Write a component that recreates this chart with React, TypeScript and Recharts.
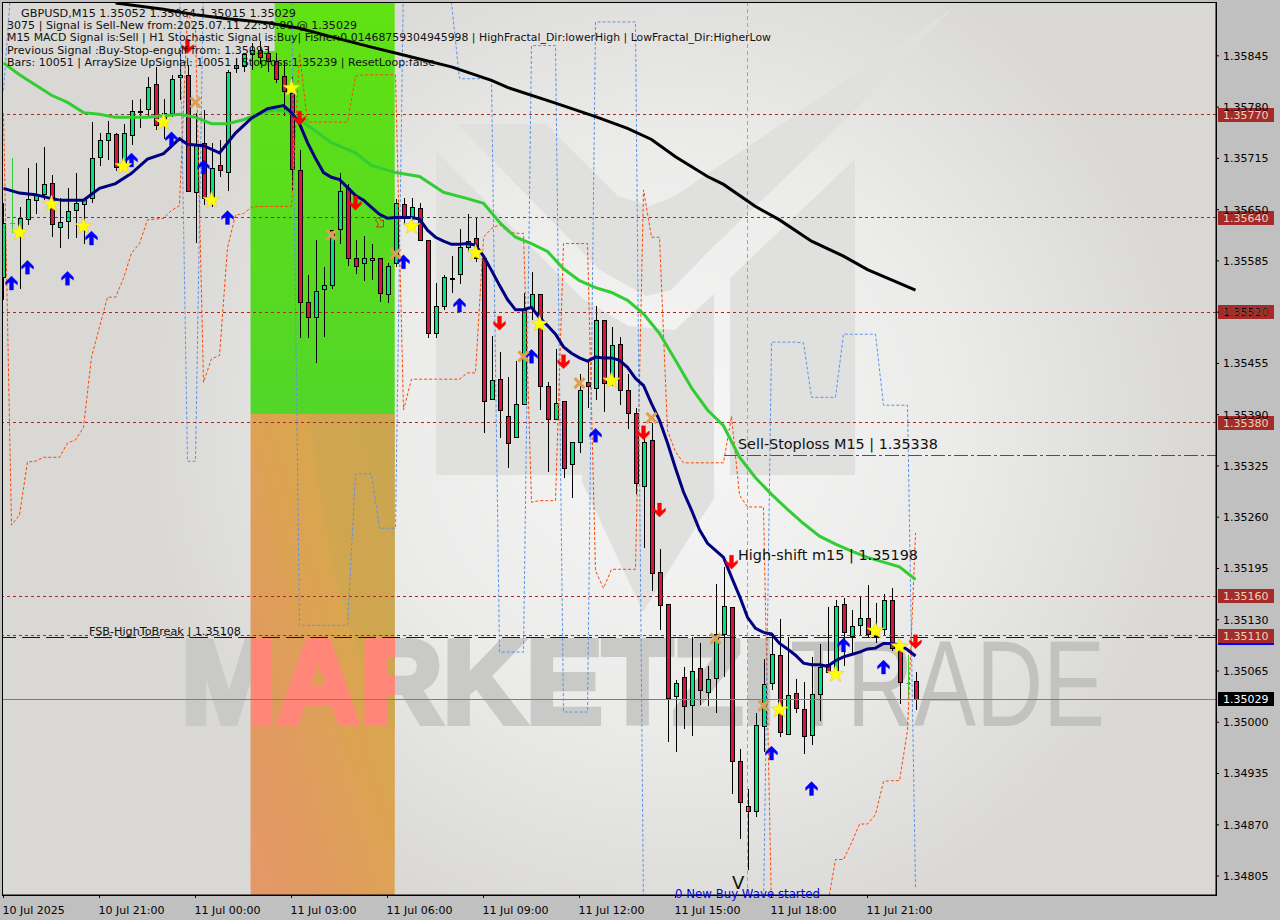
import { ComposedChart, Bar, Line, XAxis, YAxis, ReferenceLine, ReferenceArea } from 'recharts';

// all series values are in points above 1.35000 (1 point = 0.00001)
const highs = [
  658,715,653,703,709,729,694,665,678,697,
  665,761,747,763,747,759,789,790,818,831,
  790,821,852,833,772,776,735,738,827,842,
  849,861,864,858,848,839,818,726,567,611,
  577,624,697,682,611,616,606,589,582,664,
  665,665,658,612,557,567,591,626,645,639,
  591,490,469,438,458,544,571,543,432,473,
  407,356,442,459,528,510,501,488,441,399,
  370,379,220,150,54,70,108,100,71,175,
  197,146,-34,-85,12,80,107,131,108,55,
  51,83,99,146,155,157,142,160,174,151,
  163,170,100,85,64,
];
const opens = [
  565,633,624,638,662,670,684,628,635,650,
  657,665,717,738,746,707,745,774,777,809,
  757,773,818,821,672,735,665,707,698,829,
  832,847,852,849,839,819,798,700,533,514,
  549,554,625,678,589,582,586,589,543,582,
  657,641,652,611,493,528,562,568,603,614,
  589,410,435,388,362,404,525,543,426,384,
  407,327,355,431,424,510,434,480,421,392,
  300,358,190,150,33,58,22,69,39,56,
  112,146,-49,-106,-113,-5,50,85,-15,37,
  17,-16,36,74,66,150,109,123,132,119,
  118,155,94,50,52,
];
const closes = [
  633,633,640,663,668,682,632,634,648,659,
  663,716,738,747,704,747,775,775,806,757,
  773,816,821,674,733,665,703,700,825,833,
  847,852,844,839,816,801,701,533,514,547,
  554,624,673,589,579,589,589,544,578,659,
  639,653,611,493,528,564,563,603,610,589,
  407,434,396,354,403,523,543,427,385,405,
  323,355,421,426,510,430,478,421,392,303,
  356,189,149,31,50,21,65,41,55,112,
  147,-49,-101,-112,-4,49,87,-12,35,18,
  -17,36,70,64,147,114,122,132,112,109,
  155,94,51,50,29,
];
const lows = [
  535,620,550,630,645,662,615,601,613,614,
  607,658,705,713,699,700,732,754,767,751,
  739,767,789,674,608,656,653,692,674,823,
  825,827,835,824,811,769,675,487,487,455,
  488,550,606,579,568,559,561,533,532,577,
  630,630,611,487,487,523,544,556,596,583,
  367,408,360,323,361,403,510,396,317,383,
  310,284,342,398,409,393,427,402,372,289,
  221,166,117,-25,-38,-9,-17,22,21,12,
  57,-91,-148,-187,-120,-38,41,-19,-16,12,
  -40,-29,1,64,66,71,85,111,108,100,
  109,90,23,31,15,
];
const thinGreen = [1, 113];

const navyMa = [
  677,null,671,null,669,null,664,662,662,null,
  662,null,677,null,683,null,696,null,714,null,
  721,null,740,733,null,731,null,722,null,747,
  null,766,null,778,null,782,773,759,735,715,
  697,691,688,678,668,662,653,644,639,640,
  640,640,638,624,615,610,606,606,607,605,
  591,573,554,536,523,523,526,513,503,492,
  476,468,462,458,463,462,462,459,450,436,
  427,404,383,354,322,292,269,244,227,218,
  209,184,160,133,119,114,112,100,93,85,
  75,73,73,71,78,83,86,89,93,94,
  100,100,98,92,84,
];
const greenMa: [number, number][] = [
  [0,836],[2,821],[4,808],[6,795],[8,786],[10,773],[12,771],[14,767],[16,767],[18,767],
  [20,769],[22,771],[24,767],[26,759],[28,759],[30,764],[32,772],[34,777],[36,773],[38,757],
  [41,735],[44,722],[46,706],[49,697],[52,692],[55,672],[58,664],[60,658],[62,634],[64,615],
  [66,607],[68,597],[70,575],[72,560],[74,551],[76,545],[78,535],[80,518],[82,493],[84,459],
  [86,424],[88,396],[90,376],[92,336],[94,310],[96,289],[98,270],[100,252],[102,236],[104,226],
  [106,217],[108,209],[110,203],[112,197],[114,181],
];
const blackMa: [number, number][] = [
  [14,912],[20,904],[24,897],[28,892],[33,887],[37,880],[41,869],[46,856],[50,846],[56,831],
  [61,814],[63,805],[69,785],[74,768],[78,753],[81,739],[84,717],[88,692],[90,682],[94,654],
  [97,637],[101,610],[105,591],[108,574],[114,548],
];
const orangeBand = [
  772,250,263,330,331,336,336,336,354,358,
  374,463,501,539,539,563,595,607,637,638,
  639,649,655,900,877,431,461,465,602,643,
  645,653,654,654,654,654,654,848,761,761,
  761,761,761,761,819,821,821,821,821,821,
  396,435,435,435,435,435,435,435,443,443,
  615,626,631,622,620,620,279,281,281,281,
  607,607,607,607,192,170,194,194,194,194,
  675,615,615,370,343,329,329,329,329,329,
  329,388,288,273,273,273,-238,-238,-238,-238,
  -238,-238,-238,-232,-174,-174,-153,-129,-129,-117,
  -75,-74,-74,-10,240,
];
const blueBand = [
  801,941,941,941,941,941,941,941,941,941,
  941,941,941,941,941,941,941,941,941,941,
  941,941,941,331,331,941,941,941,941,941,
  941,941,941,941,941,941,941,123,123,123,
  123,123,123,123,315,315,315,246,246,246,
  941,941,941,941,941,941,912,816,816,816,
  816,816,89,89,89,89,858,858,858,858,
  13,13,13,13,888,888,888,888,888,888,
  -238,-238,-238,-238,-238,-238,-238,-238,-238,-238,
  -238,-238,-238,-238,-238,-238,482,482,482,482,
  481,412,412,412,412,492,492,492,492,492,
  402,402,402,402,-210,
];

const upArrows: [number, number][] = [[1,557],[3,577],[8,563],[11,614],[16,713],[21,740],[25,704],[28,640],[50,584],[57,529],[66,464],[74,364],[96,-39],[101,-84],[105,98],[110,70]];
const downArrows: [number, number][] = [[23,857],[37,766],[44,658],[62,506],[70,457],[80,367],[82,269],[91,203],[114,102]];
const stars: [number, number][] = [[2,621],[6,657],[10,629],[15,705],[20,761],[26,662],[36,804],[51,629],[59,595],[67,505],[76,433],[97,16],[104,61],[109,116],[112,96]];
const crosses: [number, number][] = [[24,786],[41,618],[49,594],[65,464],[72,430],[81,386],[89,106],[95,21]];
const hollowArrows: [number, number][] = [[47,633]];

const yTicks = [1.35845,1.3578,1.35715,1.3565,1.35585,1.3552,1.35455,1.3539,1.35325,1.3526,1.35195,1.3513,1.35065,1.35,1.34935,1.3487,1.34805];
const xTicks = [0,12,24,36,48,60,72,84,96,108];
const xTickLabels = ['10 Jul 2025','10 Jul 21:00','11 Jul 00:00','11 Jul 03:00','11 Jul 06:00','11 Jul 09:00','11 Jul 12:00','11 Jul 15:00','11 Jul 18:00','11 Jul 21:00'];
const levelLines = [1.3577, 1.3564, 1.3552, 1.3538, 1.3516, 1.3511];

const statusLines: [string, number, number, number][] = [
  ['GBPUSD,M15  1.35052 1.35064 1.35015 1.35029', 21, 17, 275],
  ['3075 | Signal is Sell-New from:2025.07.11 22:30:00 @ 1.35029', 7, 29, 350],
  ['M15 MACD Signal is:Sell | H1 Stochastic Signal is:Buy| Fisher:0.01468759304945998 | HighFractal_Dir:lowerHigh | LowFractal_Dir:HigherLow', 7, 41, 764],
  ['Previous Signal :Buy-Stop-engulf from: 1.35093', 7, 54, 263],
  ['Bars: 10051 | ArraySize UpSignal: 10051 | Stoploss:1.35239 | ResetLoop:false', 7, 66, 428],
];

const toPrice = (p: number | null) => (p === null ? null : 1.35 + p / 100000);
const pick = (list: [number, number][], i: number) => {
  const hit = list.find((e) => e[0] === i);
  return hit ? toPrice(hit[1]) : null;
};

const rows = highs.map((h, i) => ({
  i,
  range: [toPrice(lows[i]), toPrice(h)],
  open: toPrice(opens[i]),
  close: toPrice(closes[i]),
  high: toPrice(h),
  low: toPrice(lows[i]),
  thin: thinGreen.includes(i),
  navy: toPrice(navyMa[i]),
  green: pick(greenMa, i),
  black: pick(blackMa, i),
  orange: toPrice(orangeBand[i]),
  blue: toPrice(blueBand[i]),
  up: pick(upArrows, i),
  down: pick(downArrows, i),
  star: pick(stars, i),
  cross: pick(crosses, i),
  hollow: pick(hollowArrows, i),
}));

const MONO = '"DejaVu Sans", sans-serif';

function Candle(props: any) {
  const { x, y, width, height, payload } = props;
  const cx = Math.floor(x + width / 2);
  const top = Math.min(y, y + height);
  const h = Math.abs(height);
  const pos = (v: number) => top + ((payload.high - v) / (payload.high - payload.low)) * h;
  if (payload.thin) {
    const t = Math.round(pos(payload.open));
    return (
      <g shapeRendering="crispEdges">
        <rect x={cx} y={top} width={1} height={h} fill="#32CD32" />
        <rect x={cx - 2} y={t} width={5} height={1} fill="#32CD32" />
      </g>
    );
  }
  const bodyTop = Math.round(pos(Math.max(payload.open, payload.close)));
  const bodyBot = Math.round(pos(Math.min(payload.open, payload.close)));
  const bodyH = Math.max(bodyBot - bodyTop, 1);
  const fill = payload.close >= payload.open ? '#00E676' : '#DC143C';
  return (
    <g shapeRendering="crispEdges">
      <rect x={cx} y={top} width={1} height={h} fill="#000" />
      <rect x={cx - 2} y={bodyTop} width={5} height={bodyH + 1} fill="#000" />
      {bodyH > 1 && <rect x={cx - 1} y={bodyTop + 1} width={3} height={bodyH - 1} fill={fill} />}
    </g>
  );
}

const arrowDot = (color: string, dir: number) => (p: any) => {
  if (p.value == null || p.cy == null) return <g key={p.key} />;
  const { cx, cy } = p;
  const s = dir;
  const pts = [
    [0, -7], [6, -1], [6, 2], [2, -1], [2, 7], [-2, 7], [-2, -1], [-6, 2], [-6, -1],
  ].map(([a, b]) => `${cx + a},${cy + b * s}`).join(' ');
  return <polygon key={p.key} points={pts} fill={color} stroke={color} strokeOpacity={0.3} />;
};

const starDot = (p: any) => {
  if (p.value == null || p.cy == null) return <g key={p.key} />;
  const { cx, cy } = p;
  const pts = [];
  for (let k = 0; k < 10; k++) {
    const r = k % 2 === 0 ? 9 : 3.6;
    const a = -Math.PI / 2 + (k * Math.PI) / 5;
    pts.push(`${cx + r * Math.cos(a)},${cy + r * Math.sin(a)}`);
  }
  return <polygon key={p.key} points={pts.join(' ')} fill="#FFFF00" stroke="#E6C850" strokeWidth={0.6} />;
};

const crossDot = (p: any) => {
  if (p.value == null || p.cy == null) return <g key={p.key} />;
  const { cx, cy } = p;
  return (
    <g key={p.key} stroke="#DDA050" strokeWidth={3}>
      <line x1={cx - 5} y1={cy - 5} x2={cx + 5} y2={cy + 5} />
      <line x1={cx - 5} y1={cy + 5} x2={cx + 5} y2={cy - 5} />
    </g>
  );
};

const hollowDot = (p: any) => {
  if (p.value == null || p.cy == null) return <g key={p.key} />;
  const { cx, cy } = p;
  return (
    <polygon
      key={p.key}
      points={`${cx - 4},${cy - 3} ${cx - 1},${cy - 6} ${cx + 2},${cy - 2} ${cx + 4},${cy - 3} ${cx + 4},${cy + 4} ${cx - 3},${cy + 4} ${cx - 1},${cy + 1}`}
      fill="none"
      stroke="#E0202A"
    />
  );
};

function Badge(props: any) {
  const { viewBox, text, fill = '#A52A2A', color = '#E9D6B8', under } = props;
  const right = viewBox.x + viewBox.width;
  const y = viewBox.y;
  return (
    <g>
      <rect x={right + 2} y={y - 7} width={56} height={14} fill={fill} shapeRendering="crispEdges" />
      {under && <rect x={right + 2} y={y + 7} width={56} height={2} fill="#0000FF" shapeRendering="crispEdges" />}
      <text x={right + 7} y={y + 4} fontSize={11} fontFamily={MONO} fill={color}>{text}</text>
    </g>
  );
}

function XTick(props: any) {
  const { x, y, payload } = props;
  return (
    <text x={x - 1} y={y + 14} fontSize={11} fontFamily={MONO} fill="#000">
      {xTickLabels[xTicks.indexOf(payload.value)]}
    </text>
  );
}

function OrangeBlock(props: any) {
  const { x, y, width, height } = props;
  return (
    <g>
      <rect x={x} y={y} width={width} height={height} fill="url(#orangeFill)" />
      <path d="M256,414 Q265,600 395,860 L395,414 Z" fill="#D8A44C" fillOpacity={0.35} />
      <path d="M310,414 Q330,620 395,730 L395,414 Z" fill="#C4A850" fillOpacity={0.4} />
      <text
        x={181}
        y={723}
        fontSize={119}
        fontWeight="bold"
        fontFamily='"Liberation Sans", sans-serif'
        textLength={594}
        lengthAdjust="spacingAndGlyphs"
        fill="#FF8678"
        stroke="#FF8678"
        strokeWidth={6}
        clipPath="url(#orangeClip)"
      >
        MARKETZI
      </text>
    </g>
  );
}

function Backdrop() {
  return (
    <svg width={1280} height={920} style={{ position: 'absolute', left: 0, top: 0 }}>
      <defs>
        <radialGradient id="paper" gradientUnits="userSpaceOnUse" cx={670} cy={430} r={530}>
          <stop offset="0" stopColor="#F6F6F6" />
          <stop offset="0.55" stopColor="#EBEBEA" />
          <stop offset="1" stopColor="#D9D8D5" />
        </radialGradient>
        <linearGradient id="orangeFill" x1="1" y1="0" x2="0" y2="1">
          <stop offset="0" stopColor="#CDA850" />
          <stop offset="0.4" stopColor="#DDA652" />
          <stop offset="0.75" stopColor="#E09A60" />
          <stop offset="1" stopColor="#E59868" />
        </linearGradient>
        <linearGradient id="greenFill" x1="0" y1="0" x2="0" y2="1">
          <stop offset="0" stopColor="#60E212" />
          <stop offset="1" stopColor="#52D628" />
        </linearGradient>
        <clipPath id="orangeClip"><rect x={251} y={414} width={144} height={481} /></clipPath>
      </defs>
      <rect x={0} y={0} width={1280} height={920} fill="#C0C0C0" />
      <rect x={3} y={2} width={1213} height={893} fill="url(#paper)" />
      <g fill="#E0E0DF">
        <polygon points="436,151 582,298 582,475 436,475" />
        <polygon points="582,298 628,326 675,330 714,294 714,498 643,612 582,482" />
        <polygon points="730,278 855,159 855,475 730,475" />
        <polygon points="457,124 546,124 618,196 650,206 675,196 953,8 843,122 710,250 671,290 646,296 600,270" />
      </g>
      <text x={181} y={723} fontSize={119} fontWeight="bold" fontFamily='"Liberation Sans", sans-serif' textLength={594} lengthAdjust="spacingAndGlyphs" fill="#C9C9C8" stroke="#C9C9C8" strokeWidth={6}>
        MARKETZI
      </text>
      <text x={790} y={726} fontSize={122} fontFamily='"Liberation Sans", sans-serif' textLength={315} lengthAdjust="spacingAndGlyphs" fill="#C2C2C1">
        TRADE
      </text>
    </svg>
  );
}

function Overlay() {
  return (
    <svg width={1280} height={920} style={{ position: 'absolute', left: 0, top: 0, pointerEvents: 'none' }}>
      <rect x={2.5} y={2.5} width={1214} height={893} fill="none" stroke="#000" />
      {statusLines.map(([t, x, y, w]) => (
        <text key={t} x={x} y={y} fontSize={10.5} fontFamily={MONO} fill="#111" textLength={w} lengthAdjust="spacingAndGlyphs">{t}</text>
      ))}
      <text x={738} y={449} fontSize={14.5} fontFamily={MONO} fill="#111" textLength={200} lengthAdjust="spacingAndGlyphs">Sell-Stoploss M15 | 1.35338</text>
      <text x={738} y={560} fontSize={14.5} fontFamily={MONO} fill="#111" textLength={180} lengthAdjust="spacingAndGlyphs">High-shift m15 | 1.35198</text>
      <text x={89} y={635} fontSize={11} fontFamily={MONO} fill="#111" textLength={152} lengthAdjust="spacingAndGlyphs">FSB-HighToBreak | 1.35108</text>
      <text x={732} y={889} fontSize={18} fontFamily={MONO} fill="#111">V</text>
      <text x={675} y={898} fontSize={12.5} fontFamily={MONO} fill="#0000E0" textLength={145} lengthAdjust="spacingAndGlyphs">0 New Buy Wave started</text>
    </svg>
  );
}

export default function App() {
  return (
    <div style={{ position: 'absolute', left: 0, top: 0, width: 1280, height: 920, overflow: 'hidden' }}>
      <Backdrop />
      <div style={{ position: 'absolute', left: 0, top: 0 }}>
        <ComposedChart width={1280} height={920} data={rows} margin={{ top: 3, right: 0, bottom: 0, left: 3 }} barSize={5}>
          <XAxis
            type="number"
            dataKey="i"
            domain={[-0.0625, 151.56]}
            allowDataOverflow
            ticks={xTicks}
            interval={0}
            height={25}
            tick={<XTick />}
            tickSize={3}
            stroke="#000"
          />
          <YAxis
            orientation="right"
            domain={[1.34781, 1.35912]}
            allowDataOverflow
            ticks={yTicks}
            interval={0}
            width={64}
            tickSize={3}
            tickMargin={4}
            stroke="#000"
            tick={{ fill: '#000', fontSize: 11, fontFamily: MONO }}
            tickFormatter={(v: number) => v.toFixed(5)}
          />

          <ReferenceArea x1={30.88} x2={48.9} y1={1.35391} y2={1.35912} fill="url(#greenFill)" fillOpacity={1} stroke="none" />
          <ReferenceArea x1={30.88} x2={48.9} y1={1.34781} y2={1.35391} shape={<OrangeBlock />} />
          <ReferenceArea x1={-0.06} x2={33.9} y1={1.35851} y2={1.35912} fill="#DAD9D6" fillOpacity={1} stroke="none" />

          {levelLines.map((v) => (
            <ReferenceLine
              key={v}
              y={v}
              stroke="#A52A2A"
              strokeDasharray="3 3"
              shapeRendering="crispEdges"
              label={<Badge text={v.toFixed(5)} under={v === 1.3511} />}
            />
          ))}
          <ReferenceLine y={1.35108} stroke="#0000CD" strokeDasharray="18 6" shapeRendering="crispEdges" />
          <ReferenceLine y={1.35029} stroke="#708090" shapeRendering="crispEdges" label={<Badge text="1.35029" fill="#000" color="#FFF" />} />
          <ReferenceLine
            segment={[{ x: 90, y: 1.35338 }, { x: 151.56, y: 1.35338 }]}
            stroke="#D81818"
            strokeDasharray="14 3 3 3"
            shapeRendering="crispEdges"
          />
          <ReferenceLine x={93} stroke="#33E28F" strokeDasharray="4 3" shapeRendering="crispEdges" />

          <Line dataKey="orange" stroke="#FF4500" strokeWidth={1} strokeDasharray="3 2" dot={false} isAnimationActive={false} />
          <Line dataKey="blue" stroke="#5B93E8" strokeWidth={1} strokeDasharray="3 2" dot={false} isAnimationActive={false} />
          <Bar dataKey="range" shape={<Candle />} isAnimationActive={false} />
          <Line dataKey="black" stroke="#000" strokeWidth={3} dot={false} connectNulls isAnimationActive={false} />
          <Line dataKey="green" stroke="#32CD32" strokeWidth={3} dot={false} connectNulls isAnimationActive={false} />
          <Line dataKey="navy" stroke="#000080" strokeWidth={3} dot={false} connectNulls isAnimationActive={false} />
          <Line dataKey="up" stroke="none" dot={arrowDot('#0000FF', 1)} isAnimationActive={false} />
          <Line dataKey="down" stroke="none" dot={arrowDot('#FF0000', -1)} isAnimationActive={false} />
          <Line dataKey="cross" stroke="none" dot={crossDot} isAnimationActive={false} />
          <Line dataKey="hollow" stroke="none" dot={hollowDot} isAnimationActive={false} />
          <Line dataKey="star" stroke="none" dot={starDot} isAnimationActive={false} />
        </ComposedChart>
      </div>
      <Overlay />
    </div>
  );
}
